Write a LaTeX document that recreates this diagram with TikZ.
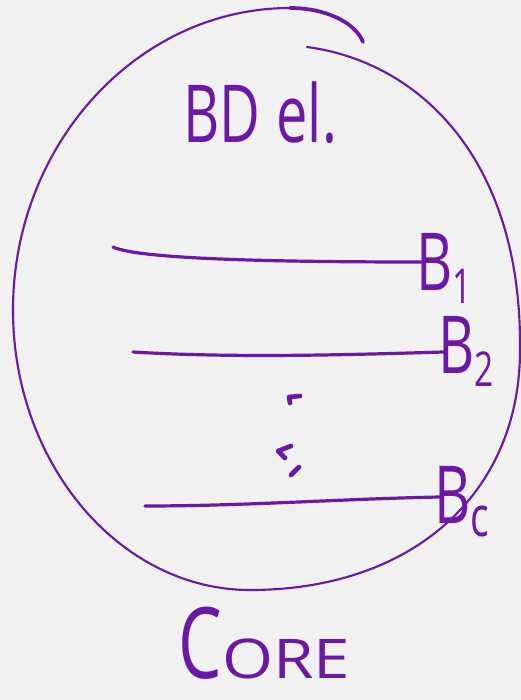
\documentclass[tikz,border=0pt]{standalone}
\usepackage{fontspec}
\newfontfamily\handfont[FakeStretch=0.7]{Open Sans}
\newfontfamily\widehand[FakeStretch=1.2]{Open Sans}
\definecolor{ink}{RGB}{108,24,166}
\definecolor{paper}{RGB}{241,241,241}
\newcommand{\bsub}[2][36]{B\raisebox{-10pt}{\fontsize{#1}{#1}\selectfont #2}}

\tikzset{every picture/.style={line width=0.75pt}}
\tikzset{
	pen/.style={draw=ink, line cap=round, line join=round},
	hand/.style={anchor=base west, inner sep=0pt, text=ink, font=\handfont\fontsize{60}{60}\selectfont},
}

\begin{document}
\begin{tikzpicture}[x=0.75pt,y=0.75pt,yscale=-1,xscale=1]
		\fill [paper] (0,0) rectangle (521,700);
		\useasboundingbox (0,0) rectangle (521,700);
		
		%Shape: Circle [id:outline]
		\draw [pen, line width=1.6pt] (307,47) .. controls (420,62) and (522,160) .. (520,350) .. controls (520,494) and (412,590) .. (250,590) .. controls (120,590) and (13,464) .. (13,310) .. controls (13,144) and (138,8) .. (290,8) ;
		%Shape: Circle top stroke
		\draw [pen, line width=2.8pt] (290,8) .. controls (325,8) and (355,22) .. (363,42) ;
		
		% Text Node
		\node [hand] (title) at (183,142) {BD\hspace{12pt}el.};
		% Text Node
		\node [hand] (b1) at (416,290) {\bsub{1}};
		% Text Node
		\node [hand] (b2) at (438,373) {\bsub{2}};
		% Text Node
		\node [hand] (bc) at (434,523) {\bsub[42]{c}};
		% Text Node
		\node [hand, font=\handfont\fontsize{74}{74}\selectfont] (core) at (178,678) {C{\widehand\fontsize{41}{41}\selectfont ORE}};
		
		%Straight Lines [id:level1]
		\coordinate (s1) at (113,247);
		\draw [pen, line width=2.4pt] (s1) .. controls +(25,12) and +(-150,0) .. ([xshift=4pt,yshift=-21pt]b1.base west);
		%Straight Lines [id:level2]
		\coordinate (s2) at (133,352);
		\draw [pen, line width=2.4pt] (s2) .. controls +(100,6) and +(-100,3) .. ([xshift=4pt,yshift=-15.75pt]b2.base west);
		%Straight Lines [id:levelc]
		\coordinate (sc) at (145,506);
		\draw [pen, line width=2.4pt] (sc) .. controls +(100,0) and +(-100,2) .. ([xshift=4pt,yshift=-19.5pt]bc.base west);
		
		%Shape: dots
		\draw [pen, line width=3.5pt] (300,396) -- (289,397) -- (290,403);
		\draw [pen, line width=3.5pt] (291,446) -- (278,451) -- (285,458);
		\draw [pen, line width=3.5pt] (299,467) -- (291,475);
		
\end{tikzpicture}
\end{document}
